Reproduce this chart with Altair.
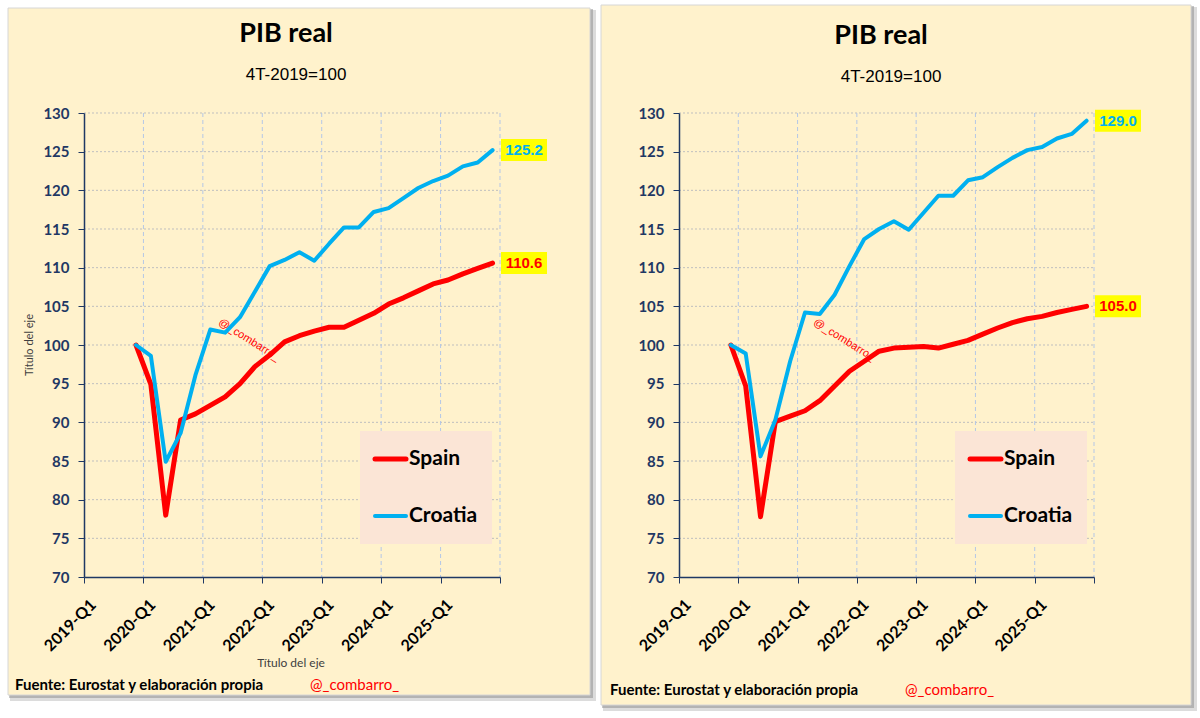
import altair as alt
import pandas as pd

# ---------------- data ----------------
quarters = ["2019-Q4",
            "2020-Q1", "2020-Q2", "2020-Q3", "2020-Q4",
            "2021-Q1", "2021-Q2", "2021-Q3", "2021-Q4",
            "2022-Q1", "2022-Q2", "2022-Q3", "2022-Q4",
            "2023-Q1", "2023-Q2", "2023-Q3", "2023-Q4",
            "2024-Q1", "2024-Q2", "2024-Q3", "2024-Q4",
            "2025-Q1", "2025-Q2", "2025-Q3", "2025-Q4"]

spain_left = [100.0, 94.9, 78.0, 90.3, 91.1, 92.2, 93.3, 95.0, 97.2, 98.7, 100.4, 101.2, 101.8,
              102.3, 102.3, 103.2, 104.1, 105.3, 106.1, 107.0, 107.9, 108.4, 109.2, 109.9, 110.6]
croatia_left = [100.0, 98.6, 84.9, 88.6, 96.1, 102.0, 101.6, 103.6, 106.9, 110.2, 111.0, 112.0, 110.9,
                113.1, 115.2, 115.2, 117.2, 117.7, 119.0, 120.3, 121.2, 121.9, 123.1, 123.6, 125.2]
spain_right = [100.0, 94.7, 77.8, 90.1, 90.8, 91.5, 92.8, 94.7, 96.6, 97.9, 99.2, 99.6, 99.7,
               99.8, 99.6, 100.1, 100.6, 101.4, 102.2, 102.9, 103.4, 103.7, 104.2, 104.6, 105.0]
croatia_right = [100.0, 98.9, 85.6, 90.3, 97.9, 104.2, 104.0, 106.5, 110.2, 113.7, 115.0, 116.0, 114.9,
                 117.1, 119.3, 119.3, 121.3, 121.7, 123.0, 124.2, 125.2, 125.6, 126.7, 127.3, 129.0]

x_tick_labels = ["2019-Q1", "2020-Q1", "2021-Q1", "2022-Q1", "2023-Q1", "2024-Q1", "2025-Q1"]
y_ticks = [70, 75, 80, 85, 90, 95, 100, 105, 110, 115, 120, 125, 130]
series_names = ["Spain", "Croatia"]
series_colors = ["#FF0000", "#00B0F0"]

title_text = "PIB real"
subtitle_text = "4T-2019=100"
footer_text = "Fuente: Eurostat y elaboración propia"
handle_text = "@_combarro_"
axis_title_text = "Título del eje"

# ---------------- helpers ----------------
FIRST_YEAR = 2019
N_QUARTERS = 28


def qpos(q):
    y, qq = q.split("-Q")
    return (int(y) - FIRST_YEAR) * 4 + (int(qq) - 1) + 0.5


xscale = alt.Scale(domain=[0, N_QUARTERS], nice=False, zero=False)
yscale = alt.Scale(domain=[70, 130], nice=False, zero=False)

label_array = "[" + ",".join("'%s'" % s for s in x_tick_labels) + "]"
xaxis = alt.Axis(values=list(range(0, N_QUARTERS + 1, 4)),
                 labelExpr=label_array + "[datum.value / 4] || ''",
                 labelAngle=-45, labelAlign="right", labelBaseline="middle",
                 labelFont="Lato", labelFontSize=16, labelFontWeight="bold", labelColor="black",
                 labelPadding=19, labelOffset=9, tickSize=6, tickColor="#1F3864",
                 domainColor="#1F3864", domainWidth=1.5, grid=False, title=None,
                 labelFlush=False, labelOverlap=False, zindex=2)
yaxis = alt.Axis(values=y_ticks, labelFont="Lato", labelFontSize=15, labelFontWeight="bold",
                 labelColor="#1F3864", tickSize=6, tickColor="#1F3864", labelPadding=9,
                 domainColor="#1F3864", domainWidth=1.5, grid=False, title=None,
                 labelFlush=False, labelOverlap=False, zindex=2)


def X(field):
    return alt.X(field, scale=xscale, axis=xaxis)


def Y(field):
    return alt.Y(field, scale=yscale, axis=yaxis)


one = pd.DataFrame({"k": [0]})


def text_layer(txt, x, y, **kw):
    return alt.Chart(one).mark_text(text=txt, **kw).encode(x=alt.value(x), y=alt.value(y))


def panel(spain, croatia, W, H, box, footer_y, title_y, axis_titles):
    left, right, top, bottom = box
    layers = []
    # shadow + panel background
    layers.append(alt.Chart(one).mark_rect(color="#9a9a9a", opacity=0.35).encode(
        x=alt.value(left + 2), x2=alt.value(right + 6), y=alt.value(top + 2), y2=alt.value(bottom + 6)))
    layers.append(alt.Chart(one).mark_rect(color="#808080", opacity=0.45).encode(
        x=alt.value(left + 1), x2=alt.value(right + 3), y=alt.value(top + 1), y2=alt.value(bottom + 3)))
    layers.append(alt.Chart(one).mark_rect(fill="#FFF2CC", stroke="#D6D6D6", strokeWidth=1).encode(
        x=alt.value(left), x2=alt.value(right), y=alt.value(top), y2=alt.value(bottom)))
    # gridlines
    layers.append(alt.Chart(pd.DataFrame({"v": y_ticks[1:]})).mark_rule(
        color="#BFBFBF", strokeDash=[2, 2], strokeWidth=1).encode(
        y=Y("v:Q"), x=alt.value(0), x2=alt.value(W)))
    layers.append(alt.Chart(pd.DataFrame({"t": list(range(4, N_QUARTERS + 1, 4))})).mark_rule(
        color="#B4C7E7", strokeDash=[4, 3], strokeWidth=1).encode(
        x=X("t:Q"), y=alt.value(0), y2=alt.value(H)))
    # legend box
    layers.append(alt.Chart(one).mark_rect(color="#FBE5D6").encode(
        x=alt.value(276), x2=alt.value(408), y=alt.value(318), y2=alt.value(431)))
    for i, (nm, col) in enumerate(zip(series_names, series_colors)):
        yy = 346 + 57 * i
        layers.append(alt.Chart(one).mark_rule(color=col, strokeWidth=5 if i == 0 else 4,
                                               strokeCap="round").encode(
            x=alt.value(291), x2=alt.value(322), y=alt.value(yy)))
        layers.append(text_layer(nm, 325, yy, align="left", baseline="middle", font="Lato",
                                 fontWeight="bold", fontSize=21, color="black"))
    # watermark
    layers.append(text_layer(handle_text, 165, 227, align="center", baseline="middle",
                             font="Liberation Sans", fontSize=11, angle=32, color="#FF0000"))
    # series lines
    df_s = pd.DataFrame({"q": quarters, "v": spain})
    df_s["x"] = df_s["q"].map(qpos)
    df_c = pd.DataFrame({"q": quarters, "v": croatia})
    df_c["x"] = df_c["q"].map(qpos)
    layers.append(alt.Chart(df_s).mark_line(color=series_colors[0], strokeWidth=5,
                                            strokeJoin="round", strokeCap="round").encode(
        x=X("x:Q"), y=Y("v:Q")))
    layers.append(alt.Chart(df_c).mark_line(color=series_colors[1], strokeWidth=4,
                                            strokeJoin="round", strokeCap="round").encode(
        x=X("x:Q"), y=Y("v:Q")))
    # end labels
    df_end = pd.DataFrame({"v": [spain[-1], croatia[-1]],
                           "label": ["%.1f" % spain[-1], "%.1f" % croatia[-1]],
                           "c": series_colors})
    layers.append(alt.Chart(df_end).mark_rect(color="#FFFF00", yOffset=-11, y2Offset=11).encode(
        x=alt.value(W + 1), x2=alt.value(W + 47), y=Y("v:Q"), y2="v:Q"))
    layers.append(alt.Chart(df_end).mark_text(align="center", baseline="middle", font="Liberation Sans",
                                              fontWeight="bold", fontSize=15).encode(
        x=alt.value(W + 24), y=Y("v:Q"),
        text="label:N", color=alt.Color("c:N", scale=None)))
    # titles
    layers.append(text_layer(title_text, 202, title_y, align="center", baseline="middle", font="Lato",
                             fontWeight="bold", fontSize=27, color="black"))
    layers.append(text_layer(subtitle_text, 212, title_y + 41, align="center", baseline="middle",
                             font="Liberation Sans", fontSize=17, color="black"))
    if axis_titles:
        layers.append(text_layer(axis_title_text, -54, H / 2, align="center", baseline="middle",
                                 font="Lato", fontSize=11, angle=270, color="#404040"))
        layers.append(text_layer(axis_title_text, 207, 550, align="center", baseline="middle",
                                 font="Lato", fontSize=12, color="#404040"))
    # footer
    layers.append(text_layer(footer_text, -69, footer_y, align="left", baseline="alphabetic",
                             font="Lato", fontWeight="bold", fontSize=15, color="black"))
    layers.append(text_layer(handle_text, 226, footer_y, align="left", baseline="alphabetic",
                             font="Lato", fontSize=15, color="#FF0000"))
    return alt.layer(*layers).properties(width=W, height=H)


left_panel = panel(spain_left, croatia_left, 416, 464, (-76, 506, -105, 582), 577, -79, True)
right_panel = panel(spain_right, croatia_right, 415, 464, (-78, 512, -108, 592), 582, -77, False)

chart = alt.hconcat(left_panel, right_panel, spacing=4).properties(
    padding={"left": 7, "top": 4, "right": 0, "bottom": 0},
    background="white",
).configure_view(stroke=None)

chart.save("out.html", embed_options={"renderer": "svg", "actions": False})
